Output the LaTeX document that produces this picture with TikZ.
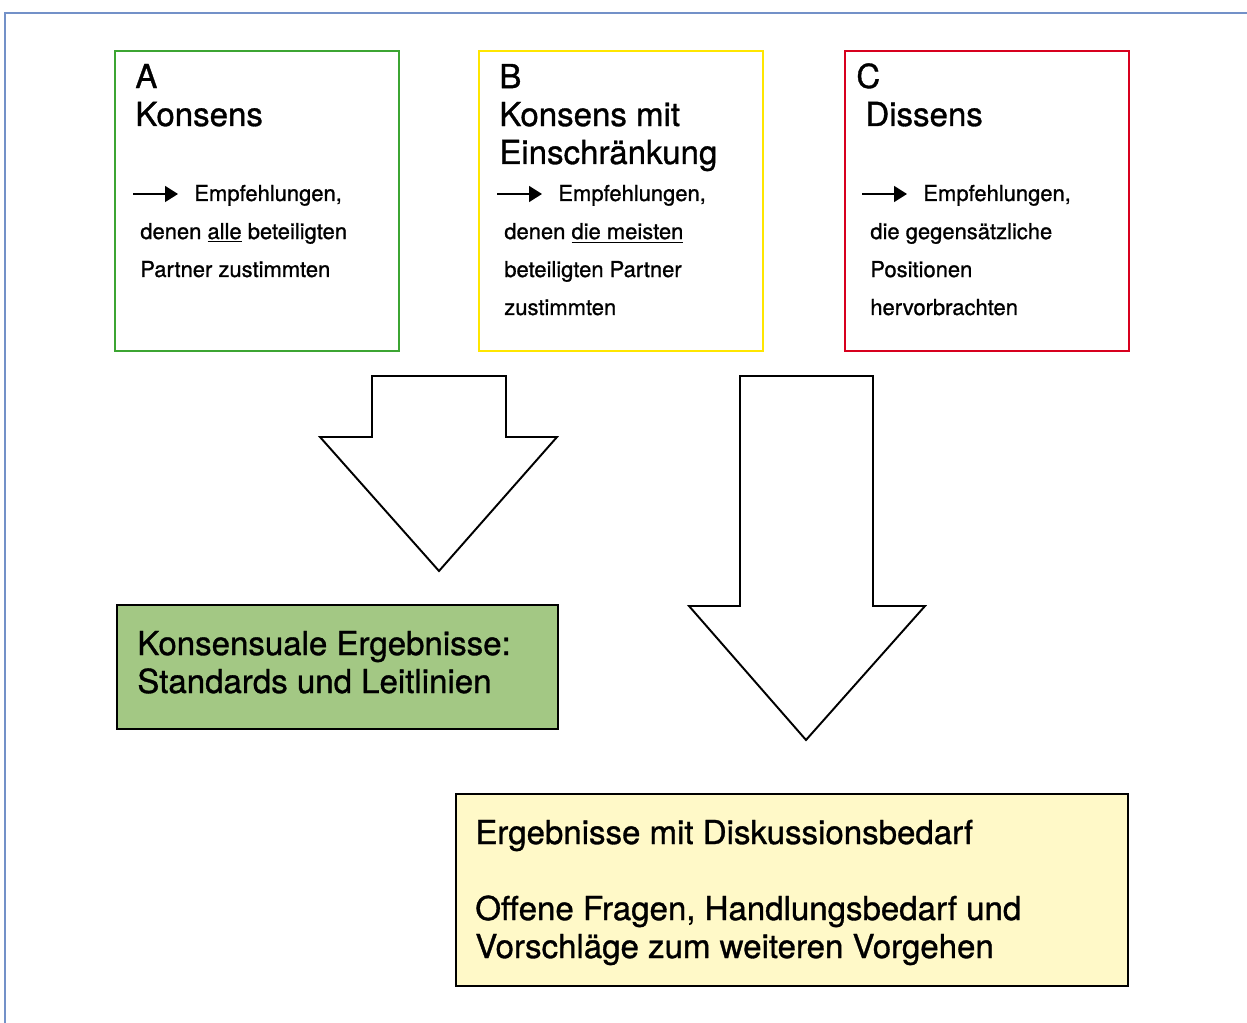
\documentclass[tikz,border=0pt]{standalone}
\usepackage{fontspec}
\setmainfont[FakeBold=1]{TeX Gyre Heros}
\usetikzlibrary{arrows.meta}
\usetikzlibrary{calc}

\definecolor{framecol}{RGB}{115,145,200}
\definecolor{gruen}{RGB}{60,165,50}
\definecolor{gelb}{RGB}{255,230,0}
\definecolor{rot}{RGB}{215,0,30}
\definecolor{gruenfill}{RGB}{163,200,132}
\definecolor{gelbfill}{RGB}{255,249,200}

\begin{document}
\begin{tikzpicture}[x=0.02cm,y=-0.02cm]

  \useasboundingbox (0,0) rectangle (1247,1023);

  % Frame
  \draw [framecol, line width=1.1pt] (5,1023) |- (1247,13);

  % Category boxes
  \tikzset{catstyle/.style = {draw, shape=rectangle, line width=1.1pt, minimum width=5.68cm, minimum height=6cm}}

  \node [catstyle, draw=gruen] (BoxA) at (257,201) {};
  \node [catstyle, draw=gelb]  (BoxB) at (621,201) {};
  \node [catstyle, draw=rot]   (BoxC) at (987,201) {};

  % Headings (base = baseline of the last line)
  \tikzset{headstyle/.style = {anchor=base west, inner sep=0pt, align=left, font=\fontsize{18.8}{21.6}\selectfont}}

  \node [headstyle] (HeadA) at (135,126) {A\\Konsens};
  \node [headstyle] (HeadB) at (499,164) {B\\Konsens mit\\Einschränkung};
  \node [headstyle] (HeadC) at (856,88) {C};
  \node [headstyle] (HeadCc) at (865,126) {Dissens};

  % Descriptions
  \tikzset{textstyle/.style = {anchor=base west, inner sep=0pt, align=left, font=\fontsize{12.5}{21.6}\selectfont}}

  \node [textstyle] (EmpfA) at (194,201) {Empfehlungen,};
  \node [textstyle] (DescA) at (140,277) {denen \underline{alle} beteiligten\\Partner zustimmten};

  \node [textstyle] (EmpfB) at (558,201) {Empfehlungen,};
  \node [textstyle] (DescB) at (504,315) {denen \underline{die meisten}\\beteiligten Partner\\zustimmten};

  \node [textstyle] (EmpfC) at (923,201) {Empfehlungen,};
  \node [textstyle] (DescC) at (870,315) {die gegensätzliche\\Positionen\\hervorbrachten};

  % Small arrows
  \tikzset{smallarrow/.style = {draw, line width=0.9pt, -{Triangle[length=0.26cm, width=0.32cm]}}}

  \coordinate (pA) at (133,194);
  \coordinate (pB) at (497,194);
  \coordinate (pC) at (862,194);
  \path [smallarrow] (pA) -- ++(45,0);
  \path [smallarrow] (pB) -- ++(45,0);
  \path [smallarrow] (pC) -- ++(45,0);

  % Block arrows
  \tikzset{blockarrow/.style = {draw, line width=1.1pt, fill=white, line join=miter}}

  \path [blockarrow] (372,376) -- (506,376) -- (506,437) -- (557,437) -- (439,571)
                     -- (320,437) -- (372,437) -- cycle;
  \path [blockarrow] (740,376) -- (873,376) -- (873,606) -- (925,606) -- (806,740)
                     -- (689,606) -- (740,606) -- cycle;

  % Results
  \tikzset{resultstyle/.style = {draw, shape=rectangle, line width=0.8pt}}

  \node [resultstyle, fill=gruenfill, minimum width=8.82cm, minimum height=2.48cm] (Konsens) at (337.5,667) {};
  \node [resultstyle, fill=gelbfill, minimum width=13.44cm, minimum height=3.84cm] (Diskussion) at (792,890) {};

  \node [headstyle] (KonsensText) at (137,693) {Konsensuale Ergebnisse:\\Standards und Leitlinien};
  \node [headstyle] (DiskText) at (475,844) {Ergebnisse mit Diskussionsbedarf};
  \node [headstyle] (OffenText) at (475,958) {Offene Fragen, Handlungsbedarf und\\Vorschläge zum weiteren Vorgehen};

\end{tikzpicture}
\end{document}
